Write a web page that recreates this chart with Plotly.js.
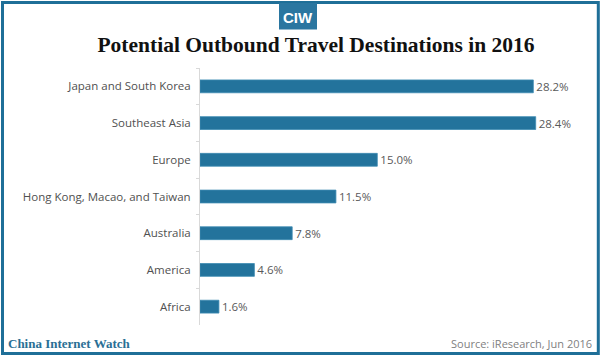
<!DOCTYPE html>
<html>
<head>
<meta charset="utf-8">
<script src="https://cdn.plot.ly/plotly-3.0.1.min.js"></script>
<style>
  html, body { margin: 0; padding: 0; background: #ffffff; }
  #chart { width: 600px; height: 356px; }
</style>
</head>
<body>
<div id="chart"></div>
<script>
// ---- data ----
const categories = [
  "Japan and South Korea",
  "Southeast Asia",
  "Europe",
  "Hong Kong, Macao, and Taiwan",
  "Australia",
  "America",
  "Africa"
];
const shares = [28.2, 28.4, 15.0, 11.5, 7.8, 4.6, 1.6];
const valueLabels = ["28.2%", "28.4%", "15.0%", "11.5%", "7.8%", "4.6%", "1.6%"];

const chartTitle = "Potential Outbound Travel Destinations in 2016";
const brandText = "China Internet Watch";
const sourceText = "Source: iResearch, Jun 2016";
const logoText = "CIW";

// ---- layout geometry ----
const W = 600, H = 356;
const M = { l: 200, r: 40, t: 68, b: 31 };
const PW = W - M.l - M.r, PH = H - M.t - M.b;
const px = p => (p - M.l) / PW;          // pixel x -> paper x
const py = p => (H - M.b - p) / PH;      // pixel y -> paper y

const blue = "#1f6f98";
const barBlue = "#23739c";
const gray = "#595959";

const trace = {
  type: "bar",
  orientation: "h",
  y: categories,
  x: shares,
  text: valueLabels,
  textposition: "outside",
  constraintext: "none",
  cliponaxis: false,
  textfont: { family: "Open Sans, DejaVu Sans, sans-serif", size: 11.5, color: gray },
  marker: { color: barBlue, line: { color: "#3f8bb3", width: 0.8 } },
  hoverinfo: "none"
};

const layout = {
  width: W, height: H,
  margin: M,
  paper_bgcolor: "#ffffff",
  plot_bgcolor: "#ffffff",
  showlegend: false,
  bargap: 0.65,
  title: {
    text: "<b>" + chartTitle + "</b>",
    font: { family: "Liberation Serif, Times New Roman, serif", size: 21.5, color: "#111111" },
    x: 316 / W, xanchor: "center", xref: "container",
    y: 1 - 44 / H, yanchor: "middle", yref: "container"
  },
  xaxis: {
    range: [0, PW / 11.82],
    visible: false,
    showgrid: false,
    zeroline: false,
    fixedrange: true
  },
  yaxis: {
    type: "category",
    autorange: "reversed",
    showgrid: false,
    zeroline: false,
    showline: true,
    linecolor: "#d9d9d9",
    linewidth: 1,
    ticks: "outside",
    tickson: "boundaries",
    ticklen: 3,
    tickcolor: "#d9d9d9",
    ticklabelstandoff: 6,
    tickfont: { family: "Open Sans, DejaVu Sans, sans-serif", size: 11.5, color: "#505050" },
    fixedrange: true
  },
  shapes: [
    // outer frame
    { type: "rect", xref: "paper", yref: "paper",
      x0: px(2.5), x1: px(598.3), y0: py(2.5), y1: py(353.5),
      line: { color: blue, width: 3 }, fillcolor: "rgba(0,0,0,0)", layer: "above" },
    // logo box
    { type: "rect", xref: "paper", yref: "paper",
      x0: px(279), x1: px(317), y0: py(3), y1: py(29.5),
      line: { width: 0 }, fillcolor: "#2a76a0", layer: "above" }
  ],
  annotations: [
    { text: "<b>" + logoText + "</b>", xref: "paper", yref: "paper",
      x: px(298), y: py(17), xanchor: "center", yanchor: "middle", showarrow: false,
      font: { family: "Liberation Sans Narrow, Arial Narrow, Liberation Sans, sans-serif", size: 15, color: "#ffffff" } },
    { text: "<b>" + brandText + "</b>", xref: "paper", yref: "paper",
      x: px(6), y: py(343.5), xanchor: "left", yanchor: "middle", showarrow: false,
      font: { family: "Liberation Serif, Times New Roman, serif", size: 13, color: "#2a6f95" } },
    { text: sourceText, xref: "paper", yref: "paper",
      x: px(594), y: py(343.5), xanchor: "right", yanchor: "middle", showarrow: false,
      font: { family: "Open Sans, DejaVu Sans, sans-serif", size: 11, color: "#7f7f7f" } }
  ]
};

Plotly.newPlot("chart", [trace], layout, { staticPlot: true, displayModeBar: false });
</script>
</body>
</html>
